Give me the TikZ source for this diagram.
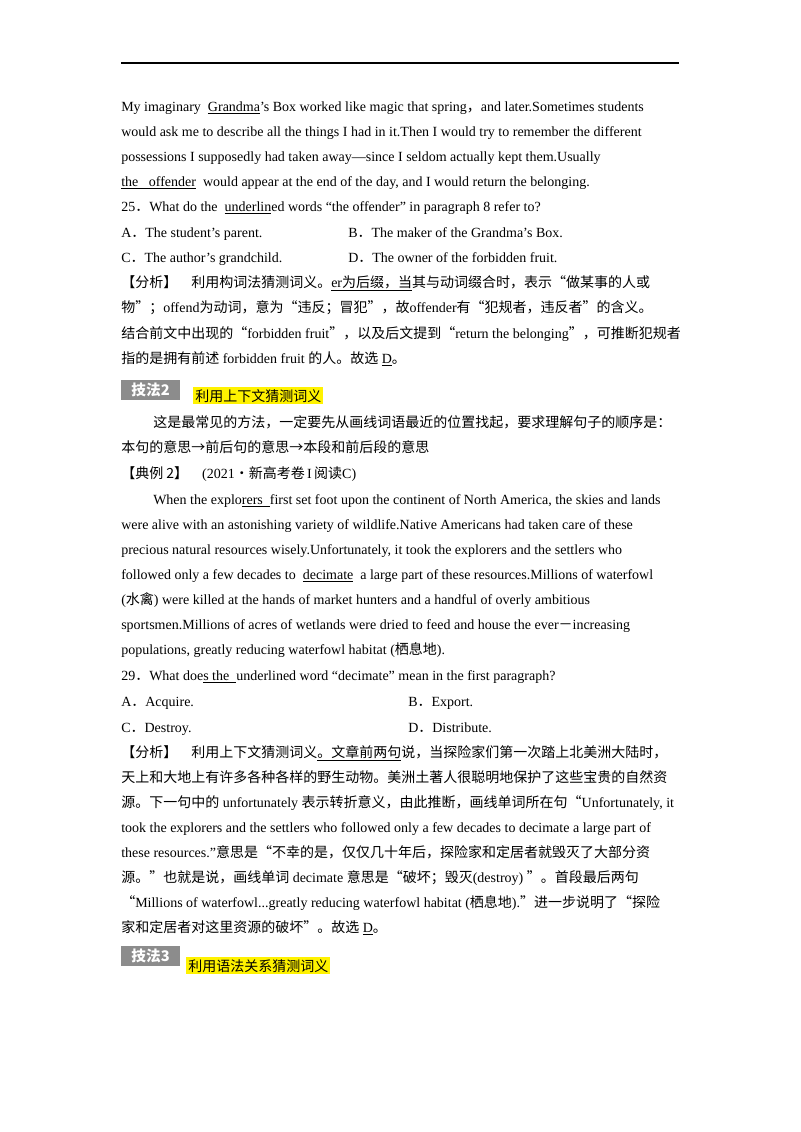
\documentclass[tikz,border=0pt]{standalone}
\usepackage{fontspec}
\setmainfont{Liberation Serif}
\newfontfamily\cjk{Noto Sans CJK SC}
\newcommand{\C}[1]{{\cjk #1}}
\begin{document}
\begin{tikzpicture}[x=0.75pt,y=-0.75pt,
  t/.style={anchor=base west,inner sep=0pt,font=\fontsize{10.5}{12}\selectfont},
  tag/.style={fill=black!45,text=white,font=\cjk\bfseries\fontsize{11}{12}\selectfont,inner sep=2pt,minimum width=44pt,minimum height=15pt,anchor=north west},
  hl/.style={fill=yellow,font=\cjk\fontsize{10.5}{12}\selectfont,inner sep=1.5pt,anchor=north west}]
\useasboundingbox (0,0) rectangle (800,1132);
\fill[white] (0,0) rectangle (800,1132);
\draw[line width=0.8pt] (121,63) -- (679,63);
\node[t] (l1) at (121,111) {My imaginary \ \underline{Grandma}’s Box worked like magic that spring\C{，}and later.Sometimes students};
\node[t] (l2) at (121,136) {would ask me to describe all the things I had in it.Then I would try to remember the different};
\node[t] (l3) at (121,161) {possessions I supposedly had taken away—since I seldom actually kept them.Usually};
\node[t] (l4) at (121,186) {\underline{the \ \ offender} \ would appear at the end of the day, and I would return the belonging.};
\node[t] (l5) at (121,211) {25\C{．}What do the \ \underline{underlin}ed words “the offender” in paragraph 8 refer to?};
\node[t] (l6a) at (121,237) {A\C{．}The student’s parent.};
\node[t] (l6b) at (348,237) {B\C{．}The maker of the Grandma’s Box.};
\node[t] (l7a) at (121,262) {C\C{．}The author’s grandchild.};
\node[t] (l7b) at (348,262) {D\C{．}The owner of the forbidden fruit.};
\node[t] (l8) at (121,287) {\C{【分析】\quad 利用构词法猜测词义。}\underline{er\C{为后缀，当}}\C{其与动词缀合时，表示“做某事的人或}};
\node[t] (l9) at (121,312) {\C{物”；}offend\C{为动词，意为“违反；冒犯”，故}offender\C{有“犯规者，违反者”的含义。}};
\node[t] (l10) at (121,338) {\C{结合前文中出现的“}forbidden fruit\C{”，以及后文提到“}return the belonging\C{”，可推断犯规者}};
\node[t] (l11) at (121,363) {\C{指的是拥有前述} forbidden fruit \C{的人。故选} \underline{D}\C{。}};
\node[tag] (k2) at (121,380) {技法2};
\node[hl] (h2) at (193,387) {利用上下文猜测词义};
\node[t] (l12) at (153,427) {\C{这是最常见的方法，一定要先从画线词语最近的位置找起，要求理解句子的顺序是：}};
\node[t] (l13) at (121,452) {\C{本句的意思→前后句的意思→本段和前后段的意思}};
\node[t] (l14) at (121,478) {\C{【典例 2】}\quad (2021\C{·新高考卷}\,I\,\C{阅读}C)};
\node[t] (l15) at (153,504) {When the explo\underline{rers \ }first set foot upon the continent of North America, the skies and lands};
\node[t] (l16) at (121,529) {were alive with an astonishing variety of wildlife.Native Americans had taken care of these};
\node[t] (l17) at (121,554) {precious natural resources wisely.Unfortunately, it took the explorers and the settlers who};
\node[t] (l18) at (121,579) {followed only a few decades to \ \underline{decimate} \ a large part of these resources.Millions of waterfowl};
\node[t] (l19) at (121,604) {(\C{水禽}) were killed at the hands of market hunters and a handful of overly ambitious};
\node[t] (l20) at (121,629) {sportsmen.Millions of acres of wetlands were dried to feed and house the ever\C{－}increasing};
\node[t] (l21) at (121,654) {populations, greatly reducing waterfowl habitat (\C{栖息地}).};
\node[t] (l22) at (121,680) {29\C{．}What doe\underline{s the \ }underlined word “decimate” mean in the first paragraph?};
\node[t] (l23a) at (121,706) {A\C{．}Acquire.};
\node[t] (l23b) at (408,706) {B\C{．}Export.};
\node[t] (l24a) at (121,732) {C\C{．}Destroy.};
\node[t] (l24b) at (408,732) {D\C{．}Distribute.};
\node[t] (l25) at (121,757) {\C{【分析】\quad 利用上下文猜测词义}\underline{\C{。文章前两句}}\C{说，当探险家们第一次踏上北美洲大陆时，}};
\node[t] (l26) at (121,782) {\C{天上和大地上有许多各种各样的野生动物。美洲土著人很聪明地保护了这些宝贵的自然资}};
\node[t] (l27) at (121,807) {\C{源。下一句中的} unfortunately \C{表示转折意义，由此推断，画线单词所在句“}Unfortunately, it};
\node[t] (l28) at (121,832) {took the explorers and the settlers who followed only a few decades to decimate a large part of};
\node[t] (l29) at (121,857) {these resources.”\C{意思是“不幸的是，仅仅几十年后，探险家和定居者就毁灭了大部分资}};
\node[t] (l30) at (121,882) {\C{源。”也就是说，画线单词} decimate \C{意思是“破坏；毁灭}(destroy) \C{”。首段最后两句}};
\node[t] (l31) at (121,907) {\C{“}Millions of waterfowl...greatly reducing waterfowl habitat (\C{栖息地}).\C{”进一步说明了“探险}};
\node[t] (l32) at (121,932) {\C{家和定居者对这里资源的破坏”。故选} \underline{D}\C{。}};
\node[tag] (k3) at (121,946) {技法3};
\node[hl] (h3) at (186,957) {利用语法关系猜测词义};
\end{tikzpicture}
\end{document}
